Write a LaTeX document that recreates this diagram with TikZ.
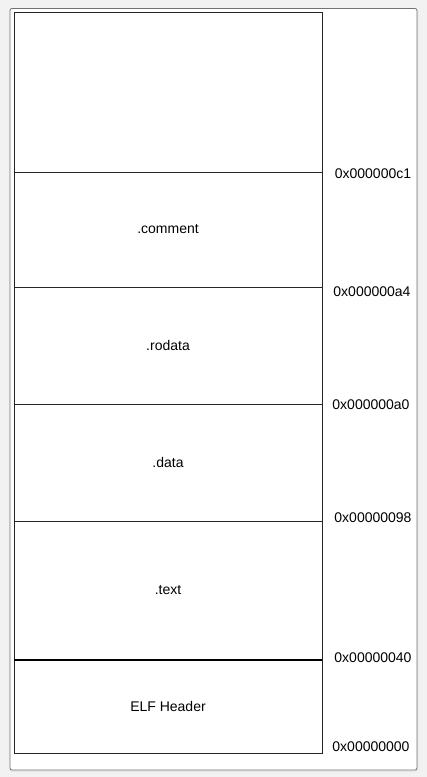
\documentclass[tikz,border=0pt]{standalone}
\usepackage{fontspec}
\setmainfont{Liberation Sans}
\begin{document}
\begin{tikzpicture}[x=1pt,y=-1pt,
  sect/.style={draw=black!85,line width=0.9pt,inner sep=0pt,minimum width=308pt,font=\fontsize{14}{16}\selectfont},
  addr/.style={inner sep=0pt,font=\fontsize{14}{16}\selectfont}]
\useasboundingbox (0,0) rectangle (427,777);
\fill[black!5] (0,0) rectangle (427,777);
\fill[black!9,rounded corners=2pt] (9.5,9.5) rectangle (418.5,772);
\draw[black!55,fill=white,line width=0.8pt,rounded corners=2pt] (10,8.5) rectangle (417,770);
\node[sect,minimum height=159.3pt] (top) at (168,92.35) {};
\node[sect,minimum height=115pt] (comment) at (168,229.5) {.comment};
\node[sect,minimum height=117pt] (rodata) at (168,345.5) {.rodata};
\node[sect,minimum height=117pt] (data) at (168,462.5) {.data};
\node[sect,minimum height=139pt] (text) at (168,590.5) {.text};
\node[sect,minimum height=93pt] (elf) at (168,706.5) {ELF Header};
\draw[line width=2pt] (elf.north west) -- (elf.north east);
\node[addr] (a1) at (373,174) {0x000000c1};
\node[addr] (a2) at (372,292) {0x000000a4};
\node[addr] (a3) at (371,405) {0x000000a0};
\node[addr] (a4) at (373,518) {0x00000098};
\node[addr] (a5) at (373,658) {0x00000040};
\node[addr] (a6) at (371,747) {0x00000000};
\end{tikzpicture}
\end{document}
